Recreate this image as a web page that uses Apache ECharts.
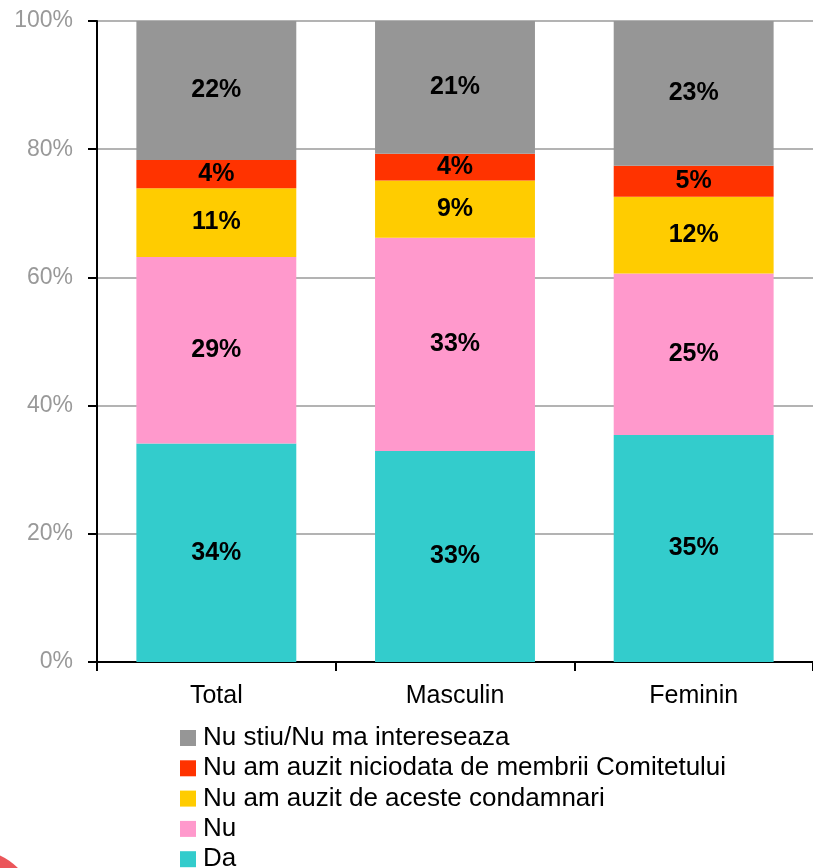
<!DOCTYPE html>
<html>
<head>
<meta charset="utf-8">
<script src="https://cdn.jsdelivr.net/npm/echarts@6/dist/echarts.min.js"></script>
<style>
  html, body { margin: 0; padding: 0; background: #fff; }
  #chart { width: 813px; height: 868px; }
</style>
</head>
<body>
<div id="chart"></div>
<script>
// categories and values (percent)
var categories = ["Total", "Masculin", "Feminin"];
var daValues = [34.1, 32.9, 35.4];
var nuValues = [29.1, 33.3, 25.2];
var nuAuzitCondamnari = [10.7, 8.9, 12.0];
var nuAuzitMembrii = [4.4, 4.2, 4.8];
var nuStiu = [21.7, 20.7, 22.6];
var yTicks = [0, 20, 40, 60, 80, 100];

var seriesNames = ["Da", "Nu", "Nu am auzit de aceste condamnari",
    "Nu am auzit niciodata de membrii Comitetului", "Nu stiu/Nu ma intereseaza"];
var seriesValues = [daValues, nuValues, nuAuzitCondamnari, nuAuzitMembrii, nuStiu];
var seriesColors = ["#33cccc", "#ff99cc", "#ffcc00", "#ff3300", "#969696"];

var fontName = "Liberation Sans, Arial, sans-serif";

function makeSeries(i) {
    return {
        name: seriesNames[i],
        type: 'bar',
        stack: 'all',
        barWidth: '67%',
        data: seriesValues[i],
        itemStyle: { color: seriesColors[i] },
        label: {
            show: true,
            position: 'inside',
            color: '#000',
            fontWeight: 'bold',
            fontSize: 25,
            fontFamily: fontName,
            formatter: function (p) { return Math.round(p.value) + '%'; }
        }
    };
}

var chart = echarts.init(document.getElementById('chart'));

var option = {
    animation: false,
    backgroundColor: '#fff',
    grid: { left: 97, top: 21, width: 723, height: 641, containLabel: false },
    xAxis: {
        type: 'category',
        data: categories,
        axisLine: { lineStyle: { color: '#000', width: 2 } },
        axisTick: { show: true, length: 9, lineStyle: { color: '#000', width: 2 } },
        axisLabel: { color: '#000', fontSize: 25, fontFamily: fontName, margin: 22 }
    },
    yAxis: {
        type: 'value',
        min: yTicks[0],
        max: yTicks[yTicks.length - 1],
        interval: 20,
        axisLine: { show: true, lineStyle: { color: '#000', width: 2 } },
        axisTick: { show: true, length: 9, lineStyle: { color: '#000', width: 2 } },
        splitLine: { lineStyle: { color: '#b3b3b3', width: 2 } },
        axisLabel: {
            color: '#999999', fontSize: 23, fontFamily: fontName, margin: 24,
            formatter: function (v) { return v + '%'; }
        }
    },
    legend: {
        orient: 'vertical',
        left: 175,
        top: 720,
        height: 220,
        itemWidth: 16,
        itemHeight: 16,
        itemGap: 4.3,
        icon: 'rect',
        data: seriesNames.slice().reverse(),
        textStyle: { color: '#000', fontSize: 26, fontFamily: fontName, padding: [0, 0, 0, 2] }
    },
    graphic: [{
        type: 'circle',
        shape: { cx: -25, cy: 910, r: 60 },
        style: { fill: '#e8383d', opacity: 0.85 },
        silent: true
    }],
    series: [0, 1, 2, 3, 4].map(makeSeries)
};

chart.setOption(option);
</script>
</body>
</html>
